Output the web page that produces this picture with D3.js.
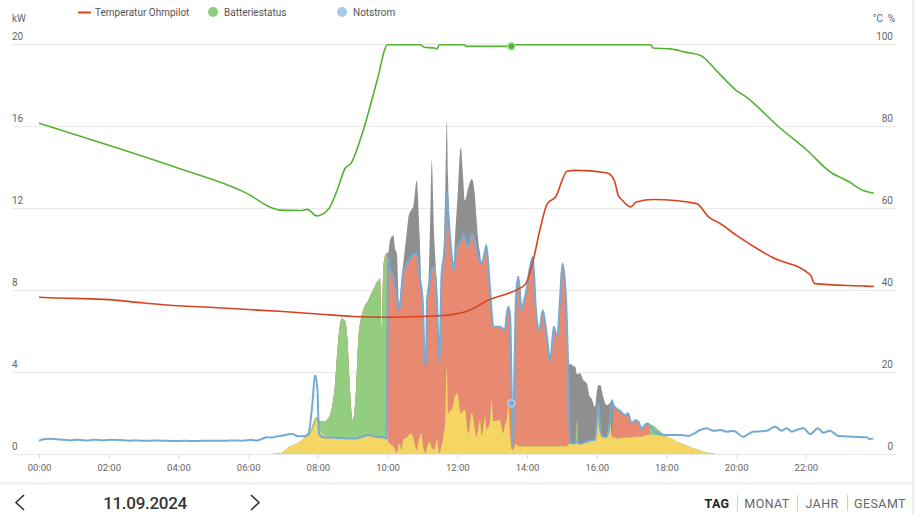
<!DOCTYPE html>
<html><head><meta charset="utf-8">
<script src="https://cdn.jsdelivr.net/npm/d3@7"></script>
<style>
body{margin:0;background:#fff;}
svg{display:block;font-family:Roboto,"Noto Sans",sans-serif;}
</style>
</head><body>
<svg id="c" width="916" height="515"></svg>
<script>
// ---------- data ----------
const xTickMinutes = [0,120,240,360,480,600,720,840,960,1080,1200,1320];
const xTickLabels = ["00:00","02:00","04:00","06:00","08:00","10:00","12:00","14:00","16:00","18:00","20:00","22:00"];
const kwTicks = [0,4,8,12,16,20];
const pctTicks = [0,20,40,60,80,100];
const legendLabels = ["Temperatur Ohmpilot","Batteriestatus","Notstrom"];
const dateLabel = "11.09.2024";
const periods = ["TAG","MONAT","JAHR","GESAMT"];

// stacked areas (kW), minutes since midnight
const stackMinutes = [400,415,432,449,455,461,469,475,478,482,489,498,509,515,521,527,531,535,540,546,550,558,567,575,584,587,590,592,594,598,
601,604,610,613,616,620,624,627,633,636,641,644,650,655,658,661,664,666,668,670,673,676,680,685,689,693,696,699,702,704,707,710,713,716,720,726,730,733,739,745,750,753,756,759,762,768,770,776,779,782,793,799,802,805,808,811,814,816,818,821,825,831,835,839,845,850,855,861,867,873,880,886,892,897,901,907,911,
914,919,923,926,928,931,937,943,948,951,957,960,963,966,971,977,983,986,989,994,1000,1009,1014,1020,1026,1032,1037,1046,1050,1053,1057,1066,1074,1081,1104,1126,1150,1165];
const pvDirect = [0,0.02,0.36,0.6,0.76,0.85,1.09,1.5,1.7,1.3,0.92,0.85,0.82,0.8,0.8,0.8,0.8,0.8,0.8,0.8,0.8,0.85,0.92,0.88,0.84,0.84,0.84,0.8,0.75,0.71,
0.6,0.5,0.36,0.2,0.05,0.5,0.2,0.68,0.8,0.9,1.0,0.8,0.2,0.8,1.0,0.36,0.1,0.03,0.3,0.5,0.6,0.3,0.2,0.68,0.03,0.4,0.84,1.5,4.25,1.98,2.1,2.14,2.4,2.8,2.95,1.98,2.1,2.14,1.0,1.98,1.2,0.84,1.2,1.65,0.9,1.8,1.2,1.5,2.63,1.6,1.65,1.0,1.4,1.65,2.3,0.84,0.2,0.2,0.3,0.5,0.36,0.36,0.36,0.36,0.36,0.36,0.36,0.36,0.36,0.36,0.36,0.36,0.36,0.36,0.36,0.36,0.45,
0.52,0.52,0.52,0.6,0.55,0.5,0.55,0.6,0.65,0.68,0.68,1.5,2.47,1.2,0.84,0.84,1.65,0.84,0.8,0.76,0.76,0.8,0.8,0.8,0.84,0.84,0.84,0.92,0.92,0.92,0.92,0.9,0.86,0.84,0.52,0.28,0.06,0];
const batteryCharge = [0,0,0,0,0,0.1,0.16,0.2,0.1,0.35,0.65,0.88,2.45,4.75,5.8,5.7,4.75,2.47,0.85,2.47,4.9,6.15,6.58,7.12,7.63,7.71,5.19,7.7,8.69,9.06,
0,0,0,0,0,0,0,0,0,0,0,0,0,0,0,0,0,0,0,0,0,0,0,0,0,0,0,0,0,0,0,0,0,0,0,0,0,0,0,0,0,0,0,0,0,0,0,0,0,0,0,0,0,0,0,0,0,0,0,0,0,0,0,0,0,0,0,0,0,0,0,0,0,0,0,0,0,
0,0,0,1.1,0,0,0,0,0,0,0,0,0,0,0,0,0,0,0,0,0,0,0,0,0,0,0,0,0,0.51,0.46,0.27,0.11,0,0,0,0,0];
const ohmpilot = [0,0,0,0,0,0,0,0,0,0,0,0,0,0,0,0,0,0,0,0,0,0,0,0,0,0,0,0,0,0,
9.0,8.6,8.24,7.94,7.45,6.5,7.7,8.12,8.48,8.5,8.6,8.9,9.57,7.8,7.14,6.81,4.3,4.27,7.2,7.5,7.87,8.7,8.9,6.82,4.37,8.4,8.6,8.9,8.55,10.02,8.64,7.66,6.55,6.7,7.15,8.42,8.64,8.36,9.1,8.76,9.2,9.16,8.4,7.75,8.38,8.13,8.97,6.64,4.37,4.6,4.55,5.1,4.63,5.15,4.87,5.84,2.27,0.16,3.2,7.15,8.27,6.64,7.14,7.62,8.74,9.24,6.81,5.67,6.64,5.67,4.21,5.84,5.34,7.29,8.92,7.29,3.64,
0,0,0,0,0,0,0,0,0,0,0,0,0,0,0,0,0,0,1.58,1.46,1.34,1.1,1.18,0.69,0.81,0.73,0.41,0.57,0.53,0,0,0,0,0,0,0,0,0];
const feedIn = [0,0,0,0,0,0,0,0,0,0,0,0,0,0,0,0,0,0,0,0,0,0,0,0,0,0,0,0,0,0,
0.2,1.3,2.06,1.86,2.27,0.3,0.7,0.48,1.52,2.15,2.3,2.33,3.56,2.14,0.16,0.16,0.1,0.2,0.1,0.14,2.53,5.3,1.64,0.48,0.17,0,0,2.1,3.45,1.5,0,0.1,0,1.0,2.26,4.55,2.76,1.86,2.9,2.66,2.3,1.5,0.8,0.4,0,0,0.08,0,0,0,0,0,0,0,0,0,0,0,0,0,0,0,0,0,0,0,0,0,0,0,0,0,0,0,0,0,0.21,
3.88,3.78,3.73,2.2,3.35,3.43,3.05,2.84,2.15,2.03,1.62,1.5,0.89,2.16,1.96,1.54,0.85,1.79,0,0,0,0,0,0,0,0,0,0,0,0,0,0,0,0,0,0,0,0];

// Notstrom / consumption line (kW)
const consumption = [[0,0.65],[8,0.72],[20,0.74],[30,0.72],[42,0.7],[55,0.67],[65,0.7],[80,0.66],[95,0.69],[110,0.67],[125,0.7],[140,0.68],[155,0.65],[170,0.66],[185,0.64],[200,0.66],[215,0.65],[230,0.63],[250,0.64],[270,0.63],[290,0.65],[310,0.64],[330,0.66],[350,0.65],[365,0.68],[375,0.66],[385,0.75],[392,0.82],[400,0.8],[410,0.86],[420,0.9],[430,0.96],[437,0.98],[443,0.88],[450,0.86],[457,0.88],[463,0.92],[467,1.5],[471,2.6],[475,3.84],[479,3.27],[482,1.0],[489,0.81],[500,0.8],[520,0.78],[546,0.76],[558,0.85],[567,0.92],[580,0.84],[592,0.81],[598,0.75],
[601,9.6],[604,9.1],[610,8.6],[613,8.14],[616,7.5],[620,7.0],[624,7.9],[627,8.8],[633,9.28],[636,9.4],[641,9.6],[644,9.7],[650,9.77],[655,8.6],[658,8.14],[661,7.17],[664,4.4],[666,4.3],[668,7.5],[670,8.0],[673,8.47],[676,9.0],[680,9.1],[685,7.5],[689,4.4],[693,8.8],[696,9.44],[699,10.4],[702,12.8],[704,12.0],[707,10.74],[710,9.8],[713,8.95],[716,9.5],[720,10.1],[726,10.4],[730,10.74],[733,10.5],[739,10.1],[745,10.74],[750,10.4],[753,10.0],[756,9.6],[759,9.4],[762,9.28],[768,9.93],[770,10.17],[776,8.14],[779,7.0],[782,6.2],[793,6.2],[799,6.1],[802,6.03],[805,6.8],[808,7.17],[811,6.68],[814,2.47],[816,0.36],[818,3.5],[821,7.65],[825,8.63],[831,7.0],[835,7.5],[839,7.98],[845,9.1],[850,9.6],[855,7.17],[861,6.03],[867,7.0],[873,6.03],[880,4.57],[886,6.2],[892,5.7],[897,7.65],[901,9.28],[907,7.65],[911,4.09],
[914,0.52],[919,0.52],[923,0.52],[926,0.6],[931,0.5],[937,0.55],[943,0.6],[948,0.65],[951,0.68],[957,0.68],[960,1.5],[963,2.47],[966,1.2],[971,0.84],[977,0.84],[983,1.65],[986,2.63],[989,2.38],[994,2.22],[1000,2.1],[1009,1.9],[1014,1.98],[1020,1.49],[1026,1.65],[1032,1.57],[1037,1.25],[1046,1.49],[1050,1.45],[1057,1.17],[1066,1.0],[1081,0.92],[1104,0.92],[1118,0.88],[1126,0.97],[1138,1.17],[1149,1.25],[1161,1.13],[1172,1.17],[1184,1.09],[1196,1.12],[1212,0.84],[1229,1.09],[1240,1.1],[1253,1.13],[1267,1.33],[1278,1.13],[1287,1.25],[1296,1.09],[1304,1.17],[1316,1.25],[1327,0.97],[1341,1.25],[1350,1.04],[1361,1.13],[1376,0.88],[1402,0.84],[1425,0.81],[1430,0.73],[1436,0.76]];

// Batteriestatus (%)
const batteryLevel = [[0,80.6],[120,75.2],[240,69.6],[360,63.3],[400,60.0],[414,59.4],[450,59.3],[462,59.6],[478,58.0],[498,59.6],[513,64.2],[527,69.6],[537,70.8],[558,78.8],[582,91],[600,99.7],[657,99.7],[663,99.1],[681,98.9],[685,98.6],[689,99.7],[732,99.7],[735,99.3],[807,99.3],[810,99.7],[1053,99.7],[1057,98.9],[1086,98.7],[1113,97.9],[1139,97.1],[1166,93.4],[1200,88.6],[1218,86.9],[1274,79.6],[1322,74],[1362,68.7],[1392,66.5],[1420,64.1],[1437,63.5]];

// Temperatur Ohmpilot (°C)
const temperature = [[0,38.2],[30,38.0],[60,37.9],[120,37.6],[180,36.8],[240,36.1],[300,35.7],[360,35.2],[420,34.7],[480,34.1],[540,33.5],[600,33.3],[660,33.5],[702,33.8],[741,35],[774,37.5],[807,39.1],[824,40.1],[838,41.5],[852,48],[862,54.5],[875,61],[889,62.6],[909,68.9],[923,69.1],[977,68.5],[990,66.7],[997,63],[1004,61.8],[1018,60.2],[1028,61.4],[1058,62],[1132,61],[1153,57.7],[1173,56.1],[1200,53.3],[1261,48],[1328,43.6],[1335,41.5],[1423,40.9],[1437,40.8]];

const markerMinute = 813;
const markerBattery = 99.3;
const markerConsumption = 2.47;

// ---------- drawing ----------
const svg = d3.select("#c");
const x = d3.scaleLinear().domain([0,1440]).range([39,875.6]);
const yK = d3.scaleLinear().domain([0,20]).range([454,43.5]);
const yP = d3.scaleLinear().domain([0,100]).range([454,43.5]);

const col = {
  pvDirect:"#f6d662", batteryCharge:"#93ce80", ohmpilot:"#e88a71", feedIn:"#8f8f8f",
  blue:"#75aad3", batt:"#54b230", temp:"#d6441f", grid:"#e9e9e9", text:"#666"
};

// gridlines + y labels
svg.append("g").selectAll("line").data(kwTicks).join("line")
  .attr("x1",12).attr("x2",897).attr("y1",d=>Math.round(yK(d))+0.5).attr("y2",d=>Math.round(yK(d))+0.5)
  .attr("stroke",col.grid).attr("stroke-width",1);
svg.append("g").selectAll("text").data(kwTicks).join("text")
  .attr("x",12).attr("y",d=>yK(d)-4).text(d=>d)
  .attr("font-size",10).attr("fill",col.text);
svg.append("g").selectAll("text").data(pctTicks).join("text")
  .attr("x",893).attr("y",d=>yP(d)-4).attr("text-anchor","end").text(d=>d)
  .attr("font-size",10).attr("fill",col.text);
svg.append("text").attr("x",12).attr("y",22).attr("font-size",10).attr("fill",col.text).text("kW");
svg.append("text").attr("x",883).attr("y",22).attr("font-size",10).attr("fill",col.text).attr("text-anchor","end").text("°C");
svg.append("text").attr("x",895).attr("y",22).attr("font-size",10).attr("fill",col.text).attr("text-anchor","end").text("%");

// x axis
const xAxis = d3.axisBottom(x).tickValues(xTickMinutes).tickFormat((d,i)=>xTickLabels[i]).tickSize(5).tickPadding(5);
const gx = svg.append("g").attr("transform","translate(0,454)").call(xAxis);
gx.select(".domain").remove();
gx.selectAll(".tick line").attr("stroke","#dcdcdc");
gx.selectAll(".tick text").attr("fill",col.text).attr("font-size",9.5).attr("font-family","Roboto,sans-serif");

// stacked areas
const keys = ["pvDirect","batteryCharge","ohmpilot","feedIn"];
const rows = stackMinutes.map((m,i)=>({m, pvDirect:pvDirect[i], batteryCharge:batteryCharge[i], ohmpilot:ohmpilot[i], feedIn:feedIn[i]}));
const series = d3.stack().keys(keys)(rows);
const area = d3.area().x(d=>x(d.data.m)).y0(yK(0)).y1(d=>yK(d[1])).curve(d3.curveMonotoneX);
svg.append("g").selectAll("path").data(series.slice().reverse()).join("path")
  .attr("d",area).attr("fill",d=>col[d.key]);

// lines
const lineK = d3.line().x(d=>x(d[0])).y(d=>yK(d[1])).curve(d3.curveMonotoneX);
const lineP = d3.line().x(d=>x(d[0])).y(d=>yP(d[1])).curve(d3.curveMonotoneX);
svg.append("path").attr("d",lineK(consumption)).attr("fill","none").attr("stroke",col.blue).attr("stroke-width",2).attr("stroke-linejoin","round");
svg.append("path").attr("d",lineP(temperature)).attr("fill","none").attr("stroke",col.temp).attr("stroke-width",1.6).attr("stroke-linejoin","round");
svg.append("path").attr("d",lineP(batteryLevel)).attr("fill","none").attr("stroke",col.batt).attr("stroke-width",1.6).attr("stroke-linejoin","round");

// hover markers
svg.append("circle").attr("cx",x(markerMinute)).attr("cy",yP(markerBattery)).attr("r",3.5)
  .attr("fill",col.batt).attr("stroke","#a9dc95").attr("stroke-width",1.5);
svg.append("circle").attr("cx",x(markerMinute)).attr("cy",yK(markerConsumption)).attr("r",3.5)
  .attr("fill",col.blue).attr("stroke","#b5d3ea").attr("stroke-width",1.5);

// legend
const lg = svg.append("g").attr("font-size",10).attr("fill","#555");
lg.append("line").attr("x1",78).attr("x2",91).attr("y1",12.5).attr("y2",12.5).attr("stroke",col.temp).attr("stroke-width",2);
lg.append("text").attr("x",95).attr("y",16).text(legendLabels[0]);
lg.append("circle").attr("cx",213).attr("cy",12).attr("r",5).attr("fill","#8fcd7c");
lg.append("text").attr("x",224).attr("y",16).text(legendLabels[1]);
lg.append("circle").attr("cx",342).attr("cy",12).attr("r",5).attr("fill","#a8cbe5");
lg.append("text").attr("x",353).attr("y",16).text(legendLabels[2]);

// footer
svg.append("rect").attr("x",0).attr("y",482).attr("width",912).attr("height",2.5).attr("fill","#f0f0f0");
svg.append("rect").attr("x",912).attr("y",0).attr("width",2.5).attr("height",515).attr("fill","#eeeeee");
svg.append("path").attr("d","M24,495 L16,502.5 L24,510").attr("fill","none").attr("stroke","#333").attr("stroke-width",1.6);
svg.append("path").attr("d","M251,495 L259,502.5 L251,510").attr("fill","none").attr("stroke","#333").attr("stroke-width",1.6);
svg.append("text").attr("x",145).attr("y",509).attr("text-anchor","middle").attr("font-size",17).attr("font-weight",500).attr("fill","#333").attr("letter-spacing",-0.3).text(dateLabel);
const px = [717,767,822,880];
svg.append("g").selectAll("text").data(periods).join("text")
  .attr("x",(d,i)=>px[i]).attr("y",508).attr("text-anchor","middle").attr("font-size",12.5)
  .attr("letter-spacing",0.4)
  .attr("font-weight",(d,i)=>i===0?700:400).attr("fill",(d,i)=>i===0?"#222":"#666").text(d=>d);
svg.append("g").selectAll("line").data([737,797,847]).join("line")
  .attr("x1",d=>d+0.5).attr("x2",d=>d+0.5).attr("y1",495).attr("y2",511).attr("stroke","#ccc");
</script>
</body></html>
